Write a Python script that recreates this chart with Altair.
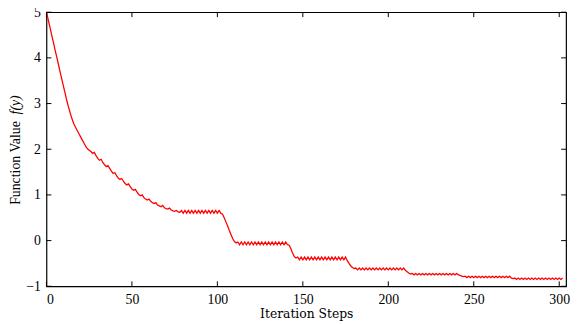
import altair as alt
import pandas as pd

# Function value per iteration step
values = [
    5.00, 4.84, 4.68, 4.51, 4.35, 4.18, 4.02, 3.86, 3.69, 3.53,
    3.37, 3.21, 3.05, 2.91, 2.78, 2.66, 2.56, 2.48, 2.41, 2.34,
    2.27, 2.20, 2.13, 2.06, 2.01,
    1.98, 1.95, 1.91, 1.93, 1.86,
    1.80, 1.76, 1.78, 1.71, 1.66,
    1.62, 1.64, 1.58, 1.52, 1.47,
    1.49, 1.42, 1.37, 1.34, 1.36,
    1.30, 1.25, 1.22, 1.24, 1.18,
    1.13, 1.10, 1.12, 1.06, 1.01,
    0.98, 1.00, 0.94, 0.91, 0.89,
    0.91, 0.86, 0.83, 0.81, 0.83,
    0.78, 0.76, 0.74, 0.77, 0.72,
    0.70, 0.69, 0.71, 0.67, 0.65,
    0.64, 0.66, 0.63, 0.62,
    0.66, 0.60, 0.66, 0.60, 0.66, 0.60, 0.66, 0.60, 0.66, 0.60, 0.66, 0.60,
    0.66, 0.60, 0.66, 0.60, 0.66, 0.60, 0.66, 0.60, 0.66, 0.60, 0.66, 0.60,
    0.58, 0.50, 0.41, 0.32, 0.22, 0.13, 0.04, -0.02, -0.05,
    -0.03, -0.09, -0.03, -0.09, -0.03, -0.09, -0.03, -0.09, -0.03, -0.09,
    -0.03, -0.09, -0.03, -0.09, -0.03, -0.09, -0.03, -0.09, -0.03, -0.09,
    -0.03, -0.09, -0.03, -0.09, -0.03, -0.09, -0.03, -0.09, -0.03, -0.09,
    -0.10, -0.18, -0.27, -0.35, -0.38,
    -0.36, -0.42, -0.36, -0.42, -0.36, -0.42, -0.36, -0.42, -0.36, -0.42,
    -0.36, -0.42, -0.36, -0.42, -0.36, -0.42, -0.36, -0.42, -0.36, -0.42,
    -0.36, -0.42, -0.36, -0.42, -0.36, -0.42, -0.36, -0.42, -0.36,
    -0.44, -0.50, -0.55, -0.59, -0.61,
    -0.60, -0.64, -0.60, -0.64, -0.60, -0.64, -0.60, -0.64, -0.60, -0.64,
    -0.60, -0.64, -0.60, -0.64, -0.60, -0.64, -0.60, -0.64, -0.60, -0.64,
    -0.60, -0.64, -0.60, -0.64, -0.60, -0.64, -0.60, -0.64, -0.60,
    -0.65, -0.68, -0.71, -0.73,
    -0.72, -0.75, -0.72, -0.75, -0.72, -0.75, -0.72, -0.75, -0.72, -0.75,
    -0.72, -0.75, -0.72, -0.75, -0.72, -0.75, -0.72, -0.75, -0.72, -0.75,
    -0.72, -0.75, -0.72, -0.75, -0.72, -0.75, -0.72, -0.75,
    -0.76, -0.78, -0.79,
    -0.78, -0.81, -0.78, -0.81, -0.78, -0.81, -0.78, -0.81, -0.78, -0.81,
    -0.78, -0.81, -0.78, -0.81, -0.78, -0.81, -0.78, -0.81, -0.78, -0.81,
    -0.78, -0.81, -0.78, -0.81, -0.78, -0.81, -0.78,
    -0.82, -0.83,
    -0.82, -0.85, -0.82, -0.85, -0.82, -0.85, -0.82, -0.85, -0.82, -0.85,
    -0.82, -0.85, -0.82, -0.85, -0.82, -0.85, -0.82, -0.85, -0.82, -0.85,
    -0.82, -0.85, -0.82, -0.85, -0.82, -0.85, -0.82, -0.85, -0.82,
]
steps = list(range(len(values)))

x_ticks = [0, 50, 100, 150, 200, 250, 300]
y_ticks = [-1, 0, 1, 2, 3, 4, 5]
y_title_main = ["Function Value"]
y_title_math = ["f(y)"]
x_title = "Iteration Steps"

W, H = 527, 278
FONT = "Liberation Serif"
TFONT = "DejaVu Serif"
TL = 5

df = pd.DataFrame({"step": steps, "f": values})
xs = alt.Scale(domain=[0, 304], nice=False, zero=False)
ys = alt.Scale(domain=[-1, 5], nice=False, zero=False)

x_axis = alt.Axis(values=x_ticks, title=x_title, labelPadding=6, titlePadding=2,
                  labelFont=FONT, labelFontSize=14, titleFont=TFONT, titleFontSize=12.5)
y_axis = alt.Axis(values=y_ticks, title="", labelPadding=6,
                  labelFont=FONT, labelFontSize=14)

line = alt.Chart(df).mark_line(color="#ff0000", strokeWidth=1.3, clip=True).encode(
    x=alt.X("step:Q", scale=xs, axis=x_axis),
    y=alt.Y("f:Q", scale=ys, axis=y_axis),
)

xt = pd.DataFrame({"step": x_ticks})
yt = pd.DataFrame({"f": y_ticks})

top_ticks = alt.Chart(xt).mark_rule(color="black", strokeWidth=1).encode(
    x=alt.X("step:Q", scale=xs, axis=x_axis), y=alt.value(0), y2=alt.value(TL))
bot_ticks = alt.Chart(xt).mark_rule(color="black", strokeWidth=1).encode(
    x=alt.X("step:Q", scale=xs, axis=x_axis), y=alt.value(H), y2=alt.value(H - TL))
left_ticks = alt.Chart(yt).mark_rule(color="black", strokeWidth=1).encode(
    y=alt.Y("f:Q", scale=ys, axis=y_axis), x=alt.value(0), x2=alt.value(TL))
right_ticks = alt.Chart(yt).mark_rule(color="black", strokeWidth=1).encode(
    y=alt.Y("f:Q", scale=ys, axis=y_axis), x=alt.value(W), x2=alt.value(W - TL))

ytitle1 = alt.Chart(pd.DataFrame({"t": y_title_main})).mark_text(
    angle=270, font=FONT, fontSize=14, color="black", align="center", baseline="middle"
).encode(x=alt.value(-31), y=alt.value(153), text="t:N")
ytitle2 = alt.Chart(pd.DataFrame({"t": y_title_math})).mark_text(
    angle=270, font=FONT, fontSize=14, fontStyle="italic", color="black",
    align="center", baseline="middle"
).encode(x=alt.value(-31), y=alt.value(94), text="t:N")

chart = alt.layer(line, top_ticks, bot_ticks, left_ticks, right_ticks, ytitle1, ytitle2).properties(
    width=W, height=H,
    background="white",
    autosize=alt.AutoSizeParams(type="none"),
    padding={"left": 39, "top": 2, "right": 4, "bottom": 36},
).configure(
    font=FONT
).configure_view(
    stroke="black", strokeWidth=1.2
).configure_axis(
    ticks=False, domain=False, grid=False,
    labelFont=FONT, labelFontSize=14, labelColor="black",
    titleFont=TFONT, titleFontSize=12.5, titleFontWeight="normal", titleColor="black",
)

chart.save("out.html", embed_options={"renderer": "svg", "actions": False})
